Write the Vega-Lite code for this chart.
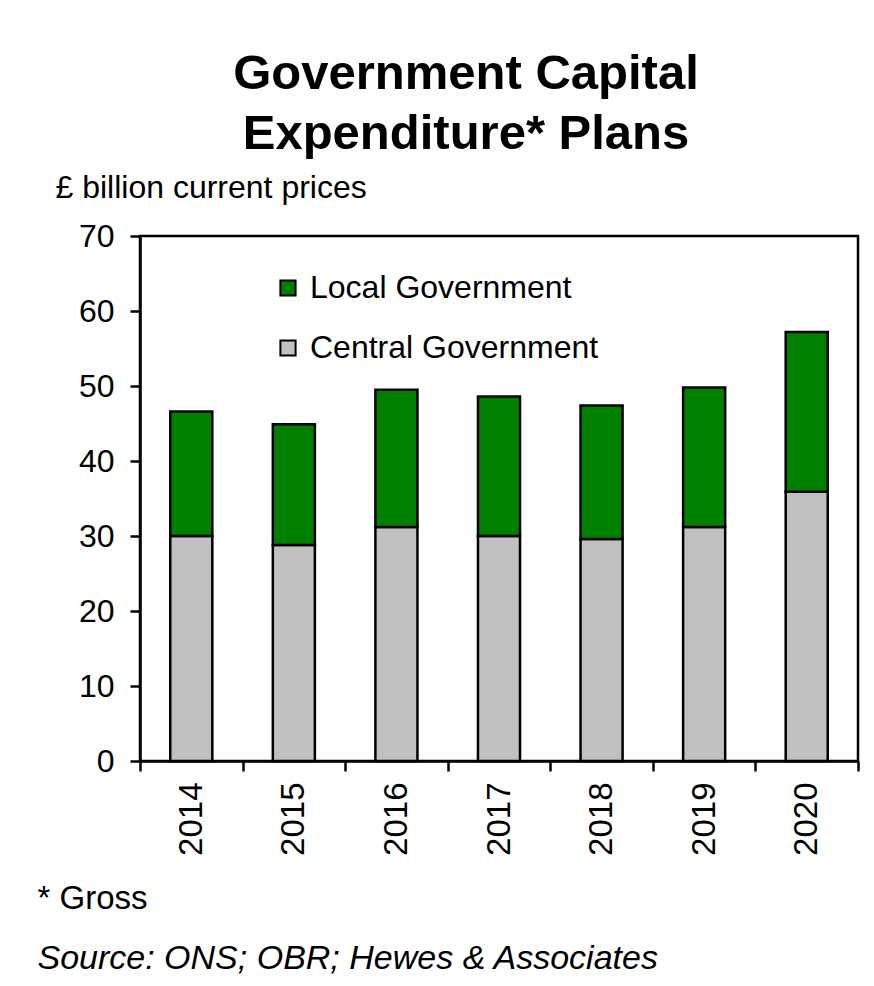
{
  "$schema": "https://vega.github.io/schema/vega-lite/v6.json",
  "width": 718,
  "height": 525,
  "autosize": {"type": "none"},
  "padding": {"left": 140, "top": 236, "right": 16, "bottom": 225},
  "background": "white",
  "title": {
    "text": ["Government Capital", "Expenditure* Plans"],
    "font": "Liberation Sans",
    "fontSize": 49,
    "fontWeight": "bold",
    "color": "black",
    "anchor": "middle",
    "frame": "group",
    "dx": -33,
    "lineHeight": 60,
    "offset": 12
  },
  "data": {
    "values": [
      {"year": "2014", "series": "Central Government", "value": 30.0},
      {"year": "2014", "series": "Local Government", "value": 16.6},
      {"year": "2015", "series": "Central Government", "value": 28.8},
      {"year": "2015", "series": "Local Government", "value": 16.1},
      {"year": "2016", "series": "Central Government", "value": 31.2},
      {"year": "2016", "series": "Local Government", "value": 18.3},
      {"year": "2017", "series": "Central Government", "value": 30.0},
      {"year": "2017", "series": "Local Government", "value": 18.6},
      {"year": "2018", "series": "Central Government", "value": 29.6},
      {"year": "2018", "series": "Local Government", "value": 17.8},
      {"year": "2019", "series": "Central Government", "value": 31.2},
      {"year": "2019", "series": "Local Government", "value": 18.6},
      {"year": "2020", "series": "Central Government", "value": 35.9},
      {"year": "2020", "series": "Local Government", "value": 21.3}
    ]
  },
  "layer": [
    {
      "mark": {"type": "bar", "stroke": "black", "strokeWidth": 2.5, "width": {"band": 0.41}},
      "encoding": {
        "x": {
          "field": "year",
          "type": "ordinal",
          "scale": {"paddingInner": 0, "paddingOuter": 0},
          "axis": {
            "title": "* Gross",
            "tickBand": "extent",
            "labelAngle": 270,
            "labelAlign": "right",
            "labelBaseline": "middle",
            "labelFontSize": 33,
            "labelPadding": 11,
            "tickSize": 10,
            "titleX": -103,
            "titleY": 147,
            "titleAlign": "left",
            "titleBaseline": "alphabetic",
            "titleFontSize": 33,
            "titleFontWeight": "normal"
          }
        },
        "y": {
          "field": "value",
          "type": "quantitative",
          "stack": "zero",
          "scale": {"domain": [0, 70]},
          "axis": {
            "title": "£ billion current prices",
            "values": [0, 10, 20, 30, 40, 50, 60, 70],
            "labelFontSize": 32,
            "labelPadding": 16,
            "tickSize": 10,
            "titleAngle": 0,
            "titleX": -85,
            "titleY": -39,
            "titleAlign": "left",
            "titleBaseline": "alphabetic",
            "titleFontSize": 32,
            "titleFontWeight": "normal"
          }
        },
        "order": {"field": "series", "type": "nominal", "sort": "ascending"},
        "color": {
          "field": "series",
          "type": "nominal",
          "scale": {"domain": ["Local Government", "Central Government"], "range": ["#008000", "#c0c0c0"]},
          "legend": {
            "orient": "none",
            "legendX": 132,
            "legendY": 36,
            "title": null,
            "symbolType": "square",
            "symbolSize": 230,
            "symbolStrokeColor": "black",
            "symbolStrokeWidth": 2,
            "symbolOpacity": 1,
            "labelFontSize": 32,
            "labelOffset": 6,
            "rowPadding": 28,
            "labelColor": "black",
            "labelLimit": 500
          }
        }
      }
    },
    {
      "mark": {"type": "tick", "opacity": 0},
      "encoding": {
        "x": {"field": "year", "type": "ordinal"},
        "y": {
          "field": "value",
          "type": "quantitative",
          "axis": {
            "orient": "right",
            "domain": false,
            "ticks": false,
            "labels": false,
            "grid": false,
            "title": "Source: ONS; OBR; Hewes & Associates",
            "titleAngle": 0,
            "titleX": -821,
            "titleY": 732,
            "titleAlign": "left",
            "titleBaseline": "alphabetic",
            "titleFontSize": 34,
            "titleFontStyle": "italic",
            "titleFontWeight": "normal"
          }
        }
      }
    }
  ],
  "resolve": {"scale": {"y": "independent"}, "axis": {"y": "independent"}},
  "config": {
    "font": "Liberation Sans",
    "view": {"stroke": "black", "strokeWidth": 2.5},
    "axis": {
      "domainColor": "black",
      "domainWidth": 2.5,
      "tickColor": "black",
      "tickWidth": 2.5,
      "labelColor": "black",
      "titleColor": "black",
      "grid": false,
      "labelFont": "Liberation Sans",
      "titleFont": "Liberation Sans"
    },
    "legend": {"labelFont": "Liberation Sans"}
  }
}
